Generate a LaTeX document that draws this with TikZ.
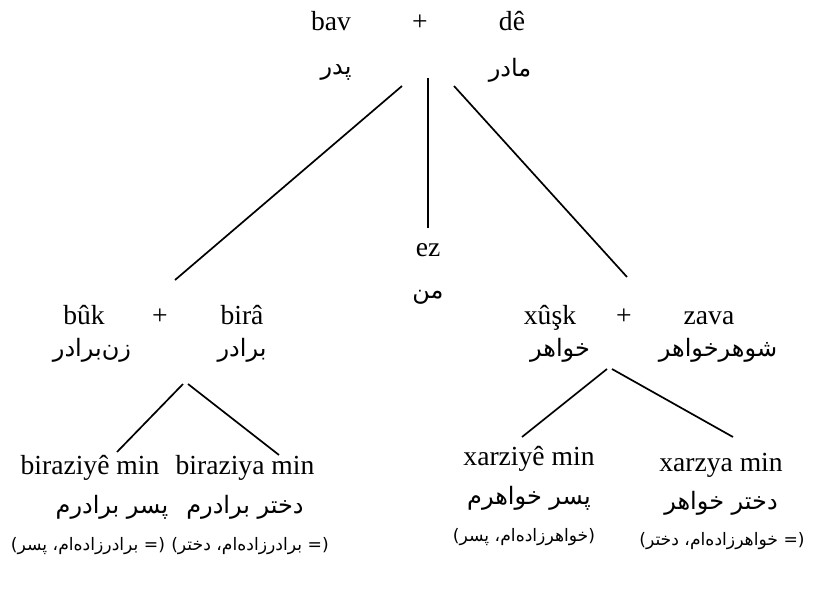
\documentclass[tikz,border=0pt]{standalone}
\usepackage{fontspec}
\setmainfont{Liberation Serif}
\newfontfamily\fafont[Script=Arabic]{DejaVu Sans}
\TeXXeTstate=1
\newcommand{\fw}[1]{\mbox{#1}}
\usetikzlibrary{positioning}

\begin{document}
\begin{tikzpicture}[x=0.5pt,y=-0.5pt]
            \tikzstyle{word}=[inner sep=0pt, anchor=base, font=\fontsize{13.8}{16}\selectfont]
            \tikzstyle{fa}=[inner sep=0pt, font=\fafont\fontsize{12}{14}\selectfont]
            \tikzstyle{note}=[inner sep=0pt, font=\fafont\fontsize{8.6}{11}\selectfont]
            \tikzstyle{link}=[line width=0.85pt]

            \useasboundingbox (0,0) rectangle (819,589);

            % Parents
            \node[word] (bav) at (331,31) {bav};
            \node[word] (plusP) at (420,31) {+};
            \node[word] (de) at (512,31) {dê};
            \node[fa] (pedar) at (336,72) {پدر};
            \node[fa] (madar) at (510,70) {مادر};

            % Ego
            \node[word] (ez) at (428,256) {ez};
            \node[fa] (man) at (428,297) {من};

            % Brother and his wife
            \node[word] (buk) at (84,324) {bûk};
            \node[word] (plusB) at (160,324) {+};
            \node[word] (bira) at (242,324) {birâ};
            \node[fa] (zanbaradar) at (92,350) {زن‌برادر};
            \node[fa] (baradar) at (242,350) {برادر};

            % Sister and her husband
            \node[word] (xusk) at (550,324) {xûşk};
            \node[word] (plusX) at (624,324) {+};
            \node[word] (zava) at (709,324) {zava};
            \node[fa] (xahar) at (560,350) {خواهر};
            \node[fa] (shohar) at (718,350) {شوهرخواهر};

            % Brother's children
            \node[word] (birazS) at (90,474) {biraziyê min};
            \node[fa] (birazSfa) at (112,507) {\beginR\fw{پسر} \fw{برادرم}\endR};
            \node[note] (birazSnote) at (88,546) {\beginR\fw{(}\fw{=} \fw{برادرزاده‌ام}\fw{،} \fw{پسر}\fw{)}\endR};
            \node[word] (birazD) at (245,474) {biraziya min};
            \node[fa] (birazDfa) at (245,507) {\beginR\fw{دختر} \fw{برادرم}\endR};
            \node[note] (birazDnote) at (250,546) {\beginR\fw{(}\fw{=} \fw{برادرزاده‌ام}\fw{،} \fw{دختر}\fw{)}\endR};

            % Sister's children
            \node[word] (xarzS) at (529,465) {xarziyê min};
            \node[fa] (xarzSfa) at (529,498) {\beginR\fw{پسر} \fw{خواهرم}\endR};
            \node[note] (xarzSnote) at (524,537) {\beginR\fw{(}\fw{خواهرزاده‌ام}\fw{،} \fw{پسر}\fw{)}\endR};
            \node[word] (xarzD) at (721,471) {xarzya min};
            \node[fa] (xarzDfa) at (721,503) {\beginR\fw{دختر} \fw{خواهر}\endR};
            \node[note] (xarzDnote) at (722,541) {\beginR\fw{(}\fw{=} \fw{خواهرزاده‌ام}\fw{،} \fw{دختر}\fw{)}\endR};

            % Line ends
            \coordinate (topL) at (402,86);
            \coordinate (topM) at (428,78);
            \coordinate (topR) at (454,86);
            \coordinate (broTop) at (175,280);
            \coordinate (egoTop) at (428,228);
            \coordinate (sisTop) at (627,277);
            \coordinate (broL) at (183,384);
            \coordinate (broR) at (188,384);
            \coordinate (sisL) at (607,369);
            \coordinate (sisR) at (612,369);
            \coordinate (birazSTop) at (117,452);
            \coordinate (birazDTop) at (279,455);
            \coordinate (xarzSTop) at (522,437);
            \coordinate (xarzDTop) at (733,437);

            % Descent lines
            \draw[link] (topL) -- (broTop);
            \draw[link] (topM) -- (egoTop);
            \draw[link] (topR) -- (sisTop);
            \draw[link] (broL) -- (birazSTop);
            \draw[link] (broR) -- (birazDTop);
            \draw[link] (sisL) -- (xarzSTop);
            \draw[link] (sisR) -- (xarzDTop);
\end{tikzpicture}
\end{document}
